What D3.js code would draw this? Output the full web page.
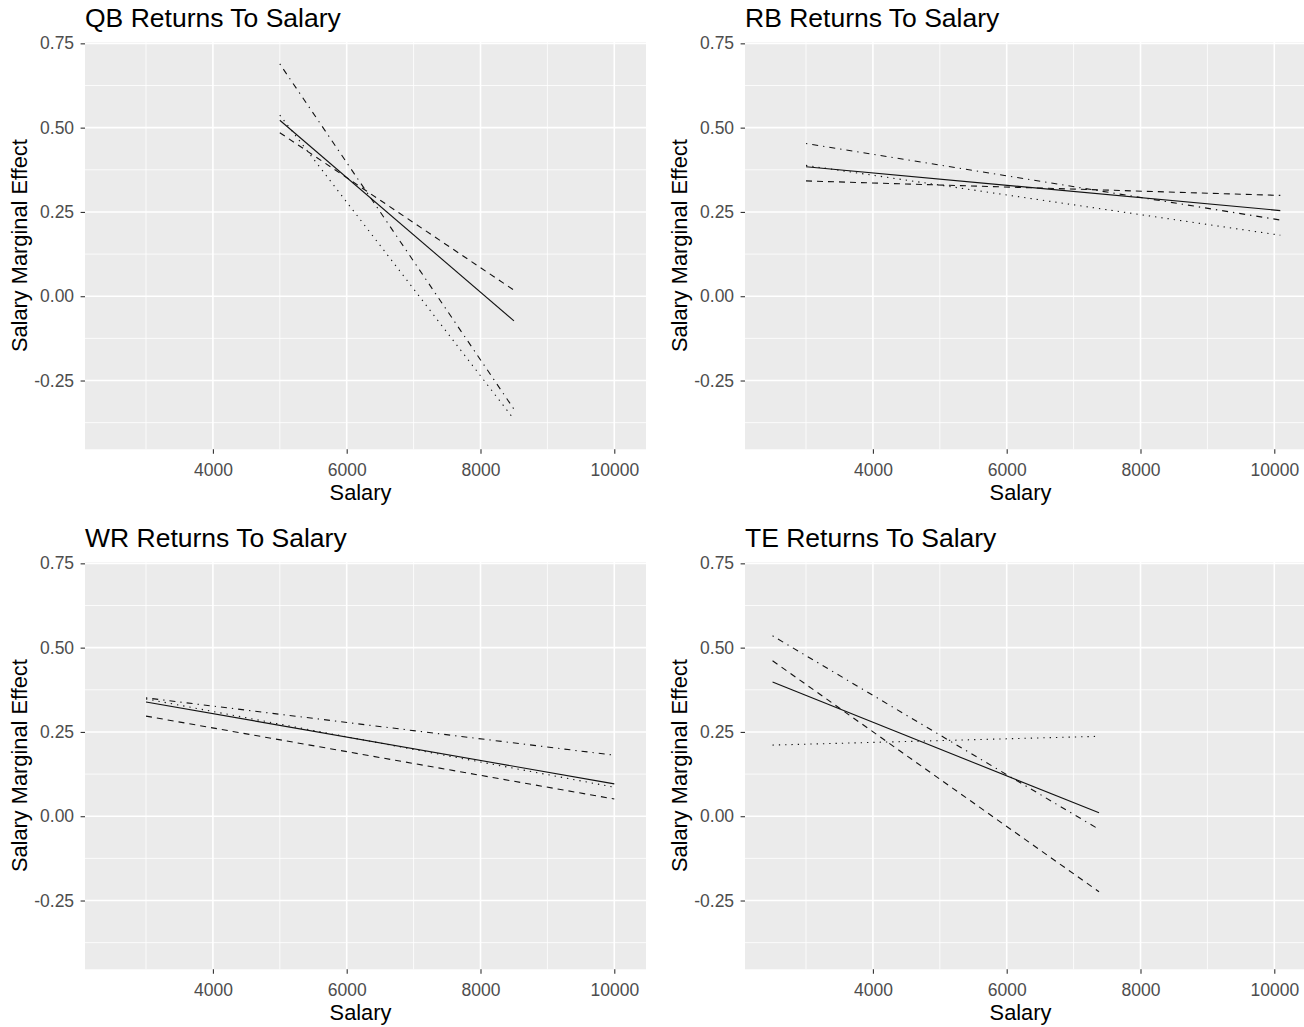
<!DOCTYPE html>
<html>
<head>
<meta charset="utf-8">
<script src="https://cdn.jsdelivr.net/npm/d3@7"></script>
<style>
    body { margin: 0; background: #fff; }
    svg { display: block; font-family: "Liberation Sans", Arial, sans-serif; }
</style>
</head>
<body>
<div id="chart"></div>
<script>
// panels, in reading order
const positions = ["QB", "RB", "WR", "TE"];

// salary where each fitted line starts / ends
const qbSalary = [5000, 8500];
const rbSalary = [3000, 10090];
const wrSalary = [3000, 10000];
const teSalary = [2500, 7380];

// marginal effect at those salaries, one array per line type
const qbSolid = [0.522, -0.073];
const qbDashed = [0.485, 0.018];
const qbDotted = [0.537, -0.365];
const qbDotdash = [0.689, -0.335];

const rbSolid = [0.384, 0.254];
const rbDashed = [0.342, 0.299];
const rbDotted = [0.388, 0.181];
const rbDotdash = [0.453, 0.226];

const wrSolid = [0.339, 0.096];
const wrDashed = [0.297, 0.051];
const wrDotted = [0.348, 0.086];
const wrDotdash = [0.351, 0.181];

const teSolid = [0.398, 0.010];
const teDashed = [0.461, -0.224];
const teDotted = [0.211, 0.237];
const teDotdash = [0.535, -0.039];

// axes
const xTicks = [4000, 6000, 8000, 10000];
const xMinor = [3000, 5000, 7000, 9000];
const yTicks = [-0.25, 0, 0.25, 0.5, 0.75];
const yTickLabels = ["-0.25", "0.00", "0.25", "0.50", "0.75"];
const yMinor = [-0.375, -0.125, 0.125, 0.375, 0.625];

const panelSalary = { QB: qbSalary, RB: rbSalary, WR: wrSalary, TE: teSalary };
const panelLines = {
    QB: { solid: qbSolid, dashed: qbDashed, dotted: qbDotted, dotdash: qbDotdash },
    RB: { solid: rbSolid, dashed: rbDashed, dotted: rbDotted, dotdash: rbDotdash },
    WR: { solid: wrSolid, dashed: wrDashed, dotted: wrDotted, dotdash: wrDotdash },
    TE: { solid: teSolid, dashed: teDashed, dotted: teDotted, dotdash: teDotdash }
};

const dashes = { solid: null, dashed: "6,5", dotted: "1.3,5", dotdash: "1.3,5,6,5" };

const width = 1304, height = 1027;
const panelW = 561, panelH = 407.3;
const lefts = [85, 745], tops = [42, 562];

const svg = d3.select("#chart").append("svg")
    .attr("width", width)
    .attr("height", height);

svg.append("rect").attr("width", width).attr("height", height).attr("fill", "#fff");

const x = d3.scaleLinear().domain([2088, 10474]).range([0, panelW]);
const y = d3.scaleLinear().domain([-0.454, 0.754]).range([panelH, 0]);

positions.forEach((pos, i) => {
    const px = lefts[i % 2], py = tops[Math.floor(i / 2)];
    const g = svg.append("g").attr("transform", `translate(${px},${py})`);

    g.append("rect")
        .attr("width", panelW).attr("height", panelH)
        .attr("fill", "#EBEBEB");

    // minor grid
    g.selectAll("line.xminor").data(xMinor).enter().append("line")
        .attr("x1", d => x(d)).attr("x2", d => x(d))
        .attr("y1", 0).attr("y2", panelH)
        .attr("stroke", "#fff").attr("stroke-width", 0.8);
    g.selectAll("line.yminor").data(yMinor).enter().append("line")
        .attr("y1", d => y(d)).attr("y2", d => y(d))
        .attr("x1", 0).attr("x2", panelW)
        .attr("stroke", "#fff").attr("stroke-width", 0.8);

    // major grid
    g.selectAll("line.xmajor").data(xTicks).enter().append("line")
        .attr("x1", d => x(d)).attr("x2", d => x(d))
        .attr("y1", 0).attr("y2", panelH)
        .attr("stroke", "#fff").attr("stroke-width", 1.6);
    g.selectAll("line.ymajor").data(yTicks).enter().append("line")
        .attr("y1", d => y(d)).attr("y2", d => y(d))
        .attr("x1", 0).attr("x2", panelW)
        .attr("stroke", "#fff").attr("stroke-width", 1.6);

    // fitted lines
    const sal = panelSalary[pos];
    const line = d3.line().x(d => x(d[0])).y(d => y(d[1]));
    Object.keys(panelLines[pos]).forEach(type => {
        const vals = panelLines[pos][type];
        g.append("path")
            .datum(sal.map((s, k) => [s, vals[k]]))
            .attr("d", line)
            .attr("fill", "none")
            .attr("stroke", "#111")
            .attr("stroke-width", 1.1)
            .attr("stroke-dasharray", dashes[type]);
    });

    // axes
    const yAxis = g.append("g")
        .call(d3.axisLeft(y).tickValues(yTicks)
            .tickFormat((d, k) => yTickLabels[k])
            .tickSize(4.4).tickPadding(6.5));
    const xAxis = g.append("g")
        .attr("transform", `translate(0,${panelH})`)
        .call(d3.axisBottom(x).tickValues(xTicks)
            .tickFormat(d3.format("d"))
            .tickSize(4.4).tickPadding(10));
    [xAxis, yAxis].forEach(a => {
        a.select(".domain").remove();
        a.selectAll(".tick line").attr("stroke", "#333").attr("stroke-width", 1.1);
        a.selectAll(".tick text")
            .attr("fill", "#4D4D4D")
            .style("font-size", "17.5px")
            .style("font-family", "Liberation Sans, Arial, sans-serif");
    });

    // titles
    g.append("text")
        .attr("x", 0).attr("y", -15)
        .style("font-size", "26.5px")
        .attr("fill", "#000")
        .text(pos + " Returns To Salary");

    g.append("text")
        .attr("x", panelW / 2 - 5).attr("y", panelH + 51)
        .attr("text-anchor", "middle")
        .style("font-size", "21.8px")
        .text("Salary");

    g.append("text")
        .attr("transform", `translate(-58,${panelH / 2}) rotate(-90)`)
        .attr("text-anchor", "middle")
        .style("font-size", "21.8px")
        .text("Salary Marginal Effect");
});
</script>
</body>
</html>
